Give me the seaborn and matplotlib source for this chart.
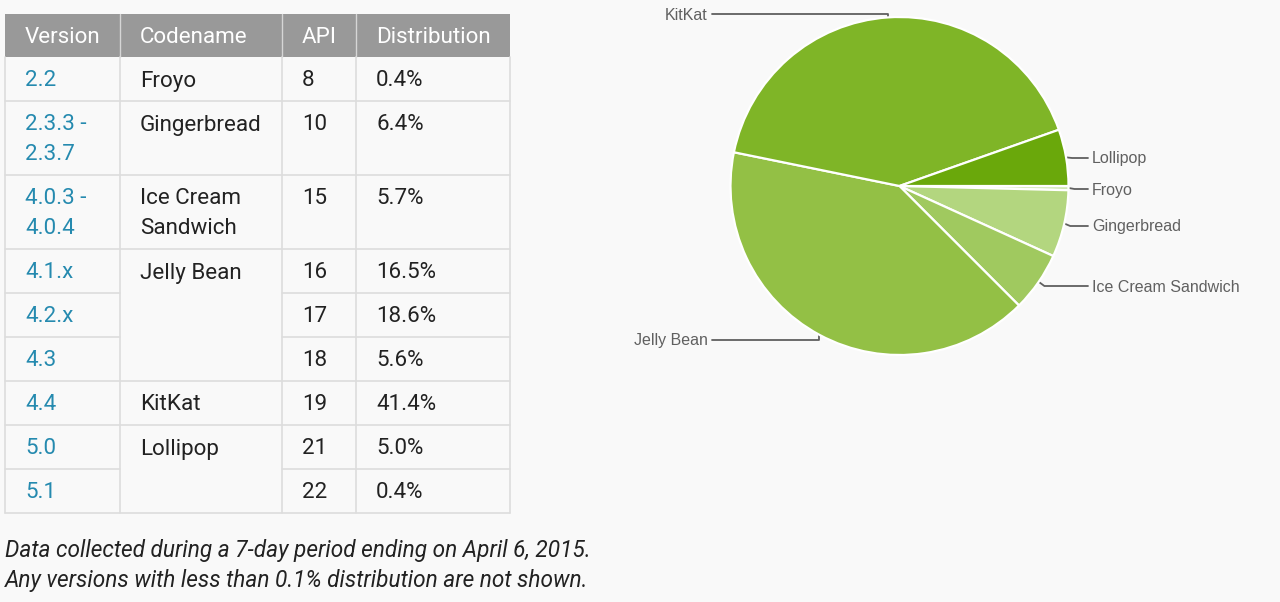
import numpy as np
import pandas as pd
import matplotlib
matplotlib.use("Agg")
import matplotlib.pyplot as plt
import seaborn as sns

# ---------------- data ----------------
versions = ["2.2", "2.3.3 -\n2.3.7", "4.0.3 -\n4.0.4", "4.1.x", "4.2.x", "4.3", "4.4", "5.0", "5.1"]
codenames = ["Froyo", "Gingerbread", "Ice Cream\nSandwich", "Jelly Bean", "Jelly Bean", "Jelly Bean",
             "KitKat", "Lollipop", "Lollipop"]
api_levels = [8, 10, 15, 16, 17, 18, 19, 21, 22]
distribution = [0.4, 6.4, 5.7, 16.5, 18.6, 5.6, 41.4, 5.0, 0.4]
headers = ["Version", "Codename", "API", "Distribution"]
footnotes = ["Data collected during a 7-day period ending on April 6, 2015.",
             "Any versions with less than 0.1% distribution are not shown."]

pie_names = ["Froyo", "Gingerbread", "Ice Cream Sandwich", "Jelly Bean", "KitKat", "Lollipop"]
pie_colors = ["#d3e8b4", "#b3d67f", "#a0c95f", "#93c045", "#7fb527", "#6aa80b"]

df = pd.DataFrame({"version": versions, "codename": codenames,
                   "api": api_levels, "dist": distribution})
df["group"] = df["codename"].str.replace("\n", " ")
pie_vals = df.groupby("group", sort=False)["dist"].sum().reindex(pie_names)

# ---------------- style ----------------
sns.set_theme(style="white")
plt.rcParams["font.family"] = ["Roboto", "DejaVu Sans"]
BG = "#f9f9f9"
LINE = "#dddddd"

W, H = 1280, 602
fig = plt.figure(figsize=(12.8, 6.02), dpi=100, facecolor=BG)
ax = fig.add_axes([0, 0, 1, 1])
ax.set_xlim(0, W)
ax.set_ylim(H, 0)
ax.axis("off")
ax.patch.set_alpha(0)

# ---------------- table ----------------
col_x = [5, 120, 282, 356, 510]
head_top, head_bot = 14, 57
pad_x = 20
fs = 16.1
LS = 30  # line step in px


def multiline(x, y, s, **kw):
    for k, part in enumerate(s.split("\n")):
        ax.text(x, y + LS * k, part, va="center", ha="left", fontsize=fs, **kw)


ax.add_patch(plt.Rectangle((col_x[0], head_top), col_x[-1] - col_x[0], head_bot - head_top,
                           facecolor="#999999", edgecolor="none"))
for i, h in enumerate(headers):
    ax.text(col_x[i] + pad_x, (head_top + head_bot) / 2 + 2, h, color="white", fontsize=fs,
            va="center", ha="left")
for x in col_x[1:-1]:
    ax.plot([x, x], [head_top, head_bot], color="#d6d6d6", lw=1)

lines_per_row = [max(v.count("\n"), c.count("\n")) + 1 for v, c in zip(versions, codenames)]
row_tops = [head_bot]
for n in lines_per_row:
    row_tops.append(row_tops[-1] + 14 + LS * n)

table_bottom = row_tops[-1]
for x in col_x:
    ax.plot([x, x], [head_bot, table_bottom], color=LINE, lw=1.2)
ax.plot([col_x[0], col_x[-1]], [table_bottom, table_bottom], color=LINE, lw=1.2)

for i in range(len(versions)):
    top = row_tops[i]
    first_line = top + 24
    multiline(col_x[0] + pad_x, first_line, versions[i], color="#258aaf")
    new_group = i == 0 or codenames[i] != codenames[i - 1]
    if new_group:
        multiline(col_x[1] + pad_x, first_line, codenames[i], color="#222222")
    multiline(col_x[2] + pad_x, first_line, str(api_levels[i]), color="#222222")
    multiline(col_x[3] + pad_x, first_line, f"{distribution[i]:.1f}%", color="#222222")
    if i > 0:
        ax.plot([col_x[0], col_x[1]], [top, top], color=LINE, lw=1.2)
        if new_group:
            ax.plot([col_x[1], col_x[2]], [top, top], color=LINE, lw=1.2)
        ax.plot([col_x[2], col_x[-1]], [top, top], color=LINE, lw=1.2)

for k, t in enumerate(footnotes):
    ax.text(5, 551 + 30 * k, t, color="#222222", fontsize=16.3, style="italic",
            va="center", ha="left")

# ---------------- pie ----------------
cx, cy, r = 899.5, 186, 169
pax = fig.add_axes([(cx - r) / W, (H - cy - r) / H, 2 * r / W, 2 * r / H])
pax.patch.set_alpha(0)
wedges, _ = pax.pie(pie_vals.values, colors=pie_colors, startangle=0, counterclock=False,
                    radius=1, wedgeprops=dict(edgecolor="white", linewidth=1.6))
pax.set_xlim(-1, 1)
pax.set_ylim(-1, 1)
pax.axis("off")

# leader lines and labels (drawn in pixel space)
label_y = {"Froyo": 189, "Gingerbread": 226, "Ice Cream Sandwich": 286,
           "Jelly Bean": 340, "KitKat": 14, "Lollipop": 158}
lab_col = "#606060"
lab_fs = 11.5
for name, w in zip(pie_names, wedges):
    mid = np.deg2rad((w.theta1 + w.theta2) / 2)
    axp = cx + r * np.cos(mid)
    ayp = cy - r * np.sin(mid)
    ly = label_y[name]
    if np.cos(mid) > 0.2:
        sx = axp + 1
        ex = 1088
        ax.plot([sx, sx + 5, ex], [ayp, ly, ly], color=lab_col, lw=1.3, zorder=5,
                solid_joinstyle="miter")
        ax.text(ex + 4, ly + 1, name, color=lab_col, fontsize=lab_fs, va="center", ha="left",
                family=["Liberation Sans", "DejaVu Sans"], zorder=5)
    else:
        ex = 712
        ax.plot([axp, axp, ex], [ayp + (3 if ayp < cy else -3), ly, ly], color=lab_col, lw=1.3,
                zorder=5)
        ax.text(ex - 4, ly + 1, name, color=lab_col, fontsize=lab_fs, va="center", ha="right",
                family=["Liberation Sans", "DejaVu Sans"], zorder=5)

fig.savefig("out.png", dpi=100, facecolor=BG)
